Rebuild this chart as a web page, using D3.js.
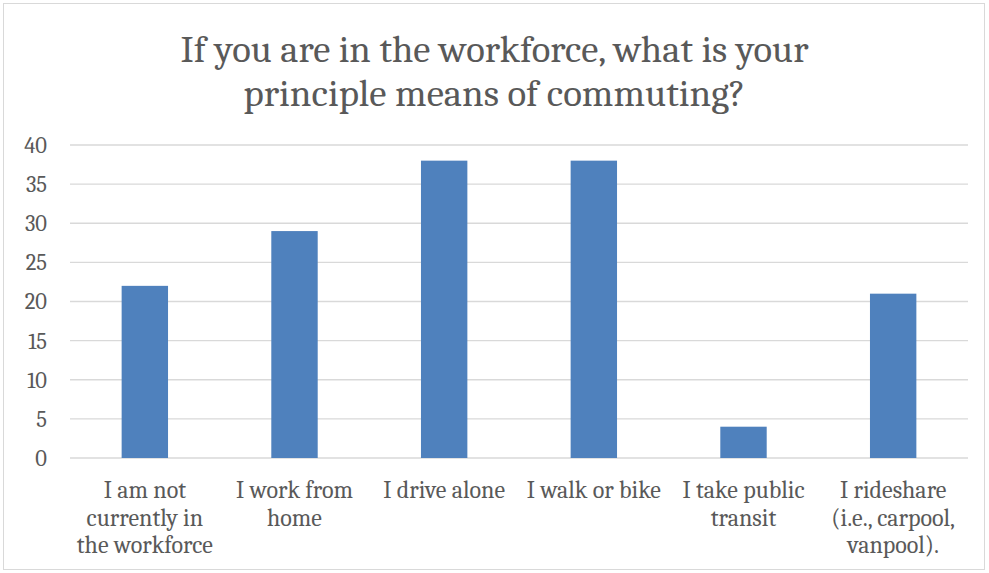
<!DOCTYPE html>
<html><head><meta charset="utf-8">
<script src="https://cdn.jsdelivr.net/npm/d3@7"></script>
<style>html,body{margin:0;padding:0;background:#fff}</style>
</head><body>
<svg id="c" width="989" height="573"></svg>
<script>
const categories = [
  ["I am not","currently in","the workforce"],
  ["I work from","home"],
  ["I drive alone"],
  ["I walk or bike"],
  ["I take public","transit"],
  ["I rideshare","(i.e., carpool,","vanpool)."]
];
const values = [22, 29, 38, 38, 4, 21];
const yTicks = [0,5,10,15,20,25,30,35,40];
const titleLines = ["If you are in the workforce, what is your","principle means of commuting?"];

const svg = d3.select("#c");
svg.append("rect").attr("x",3.5).attr("y",3.5).attr("width",981).attr("height",566)
  .attr("fill","#fff").attr("stroke","#d9d9d9");

const m = {l:70, r:968, t:145, b:458};
const x = d3.scaleBand().domain(d3.range(categories.length)).range([m.l,m.r]).paddingInner(0.69).paddingOuter(0.345);
const y = d3.scaleLinear().domain([0,40]).range([m.b,m.t]);

const font = "Cambria, 'Liberation Serif', 'DejaVu Serif', serif";

svg.append("g").selectAll("line").data(yTicks).join("line")
  .attr("x1",m.l).attr("x2",m.r).attr("y1",d=>y(d)).attr("y2",d=>y(d))
  .attr("stroke","#d9d9d9").attr("stroke-width",1.3);

svg.append("g").selectAll("text").data(yTicks).join("text")
  .attr("x",47).attr("y",d=>y(d)).attr("dy","0.35em").attr("text-anchor","end")
  .attr("font-family",font).attr("font-size",22.5).attr("fill","#595959").text(d=>d);

svg.append("g").selectAll("rect").data(values).join("rect")
  .attr("x",(d,i)=>x(i)).attr("width",x.bandwidth())
  .attr("y",d=>y(d)).attr("height",d=>y(0)-y(d)).attr("fill","#4f81bd");

const lab = svg.append("g").selectAll("text").data(categories).join("text")
  .attr("text-anchor","middle").attr("font-family",font).attr("font-size",24).attr("fill","#595959");
lab.each(function(lines,i){
  d3.select(this).selectAll("tspan").data(lines).join("tspan")
    .attr("x",x(i)+x.bandwidth()/2).attr("y",(d,j)=>498+j*27.5).text(d=>d);
});

svg.append("g").selectAll("text").data(titleLines).join("text")
  .attr("x",494.5).attr("y",(d,i)=>62+i*44).attr("text-anchor","middle")
  .attr("font-family",font).attr("font-size",38).attr("fill","#595959")
  .attr("textLength",(d,i)=>i===0?628:502).attr("lengthAdjust","spacingAndGlyphs")
  .text(d=>d);
</script>
</body></html>
